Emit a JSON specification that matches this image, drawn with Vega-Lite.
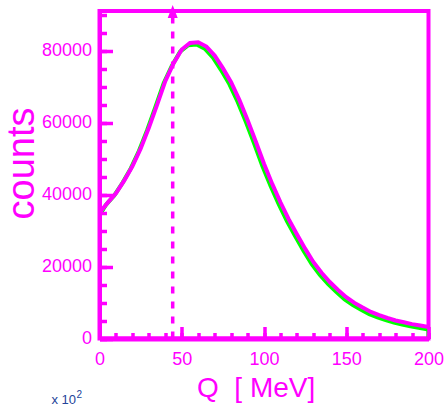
{
  "$schema": "https://vega.github.io/schema/vega-lite/v6.json",
  "width": 329,
  "height": 327.5,
  "autosize": "none",
  "padding": {"left": 99.5, "top": 11, "right": 16.5, "bottom": 69.5},
  "background": "white",
  "config": {
    "view": {"stroke": "#ff00ff", "strokeWidth": 4},
    "axis": {
      "labelFont": "Liberation Sans",
      "titleFont": "Liberation Sans",
      "labelColor": "#ff00ff",
      "titleColor": "#ff00ff",
      "tickColor": "#ff00ff",
      "domainColor": "#ff00ff",
      "grid": false,
      "labelFontSize": 18,
      "titleFontWeight": "normal",
      "tickWidth": 3.5
    }
  },
  "title": {
    "text": "x 10",
    "orient": "bottom",
    "anchor": "start",
    "frame": "group",
    "font": "Liberation Sans",
    "fontSize": 13,
    "fontWeight": "normal",
    "color": "#23449a",
    "baseline": "alphabetic",
    "offset": 0,
    "dx": -48,
    "dy": 2
  },
  "datasets": {
    "spectrum": [
      {"Q": 0, "counts": 35000}, {"Q": 5, "counts": 37800}, {"Q": 10, "counts": 40400},
      {"Q": 15, "counts": 43900}, {"Q": 20, "counts": 47900}, {"Q": 25, "counts": 52800},
      {"Q": 30, "counts": 58600}, {"Q": 35, "counts": 65000}, {"Q": 40, "counts": 71600},
      {"Q": 45, "counts": 76500}, {"Q": 50, "counts": 80400}, {"Q": 55, "counts": 82200},
      {"Q": 60, "counts": 82400}, {"Q": 65, "counts": 81200}, {"Q": 70, "counts": 78700},
      {"Q": 75, "counts": 75200}, {"Q": 80, "counts": 71300}, {"Q": 85, "counts": 66400},
      {"Q": 90, "counts": 60800}, {"Q": 95, "counts": 54800}, {"Q": 100, "counts": 48600},
      {"Q": 105, "counts": 43000}, {"Q": 110, "counts": 37900}, {"Q": 115, "counts": 33200},
      {"Q": 120, "counts": 29000}, {"Q": 125, "counts": 25000}, {"Q": 130, "counts": 21300},
      {"Q": 135, "counts": 18300}, {"Q": 140, "counts": 15700}, {"Q": 145, "counts": 13500},
      {"Q": 150, "counts": 11500}, {"Q": 155, "counts": 9900}, {"Q": 160, "counts": 8600},
      {"Q": 165, "counts": 7400}, {"Q": 170, "counts": 6500}, {"Q": 175, "counts": 5700},
      {"Q": 180, "counts": 5000}, {"Q": 185, "counts": 4500}, {"Q": 190, "counts": 4000},
      {"Q": 195, "counts": 3600}, {"Q": 200, "counts": 3200}
    ],
    "reference": [
      {"Q": 0, "counts": 34300}, {"Q": 4, "counts": 37200}, {"Q": 9, "counts": 39800},
      {"Q": 14, "counts": 43300}, {"Q": 19, "counts": 47300}, {"Q": 24, "counts": 52200},
      {"Q": 29, "counts": 58000}, {"Q": 34, "counts": 64400}, {"Q": 39, "counts": 71000},
      {"Q": 44, "counts": 75900}, {"Q": 49, "counts": 79800}, {"Q": 54, "counts": 81600},
      {"Q": 59, "counts": 81800}, {"Q": 64, "counts": 80600}, {"Q": 69, "counts": 78100},
      {"Q": 74, "counts": 74600}, {"Q": 79, "counts": 70700}, {"Q": 84, "counts": 65800},
      {"Q": 89, "counts": 60200}, {"Q": 94, "counts": 54200}, {"Q": 99, "counts": 48000},
      {"Q": 104, "counts": 42400}, {"Q": 109, "counts": 37300}, {"Q": 114, "counts": 32600},
      {"Q": 119, "counts": 28400}, {"Q": 124, "counts": 24400}, {"Q": 129, "counts": 20700},
      {"Q": 134, "counts": 17700}, {"Q": 139, "counts": 15100}, {"Q": 144, "counts": 12900},
      {"Q": 149, "counts": 10900}, {"Q": 154, "counts": 9300}, {"Q": 159, "counts": 8000},
      {"Q": 164, "counts": 6800}, {"Q": 169, "counts": 5900}, {"Q": 174, "counts": 5100},
      {"Q": 179, "counts": 4400}, {"Q": 184, "counts": 3900}, {"Q": 189, "counts": 3400},
      {"Q": 194, "counts": 3000}, {"Q": 199, "counts": 2600}, {"Q": 200, "counts": 2600},
      {"Q": 200, "counts": 0}
    ],
    "cut": [{"Q": 44.5, "counts": 0, "top": 89150}]
  },
  "layer": [
    {
      "data": {"name": "reference"},
      "mark": {"type": "line", "color": "#00ff00", "strokeWidth": 4, "clip": true},
      "encoding": {
        "x": {
          "field": "Q", "type": "quantitative",
          "scale": {"domain": [0, 200], "nice": false},
          "axis": {
            "orient": "bottom",
            "values": [0, 50, 100, 150, 200],
            "tickSize": -12,
            "labelPadding": 24,
            "labelFlush": false,
            "domainWidth": 5,
            "title": "Q\u00a0\u00a0[\u00a0MeV]",
            "titleFontSize": 28,
            "titleX": 97,
            "titleY": 57.5,
            "titleAlign": "left",
            "titleBaseline": "alphabetic",
            "zindex": 1
          }
        },
        "y": {
          "field": "counts", "type": "quantitative",
          "scale": {"domain": [0, 91100], "nice": false},
          "axis": {
            "orient": "left",
            "values": [0, 20000, 40000, 60000, 80000],
            "format": "d",
            "tickSize": -13,
            "labelPadding": 21,
            "domainWidth": 4,
            "title": "counts",
            "titleFontSize": 38,
            "titleX": -66,
            "titleY": 152,
            "titleAngle": 270,
            "titleAlign": "center",
            "titleBaseline": "alphabetic",
            "zindex": 1
          }
        },
        "order": {"value": null}
      }
    },
    {
      "data": {"name": "spectrum"},
      "mark": {"type": "line", "color": "#ff00ff", "strokeWidth": 4, "clip": true},
      "encoding": {
        "x": {
          "field": "Q", "type": "quantitative",
          "scale": {"domain": [0, 200], "nice": false},
          "axis": {
            "orient": "bottom",
            "values": [0, 10, 20, 30, 40, 50, 60, 70, 80, 90, 100, 110, 120, 130, 140, 150, 160, 170, 180, 190, 200],
            "tickSize": -6,
            "labels": false,
            "domain": false,
            "title": "2",
            "titleColor": "#23449a",
            "titleFontSize": 10,
            "titleX": -23.5,
            "titleY": 59,
            "titleAlign": "left",
            "titleBaseline": "alphabetic",
            "zindex": 1
          }
        },
        "y": {
          "field": "counts", "type": "quantitative",
          "scale": {"domain": [0, 91100], "nice": false},
          "axis": {
            "orient": "left",
            "values": [0, 5000, 10000, 15000, 20000, 25000, 30000, 35000, 40000, 45000, 50000, 55000, 60000, 65000, 70000, 75000, 80000, 85000, 90000],
            "tickSize": -7,
            "labels": false,
            "domain": false,
            "title": null,
            "zindex": 1
          }
        }
      }
    },
    {
      "data": {"name": "cut"},
      "mark": {"type": "rule", "color": "#ff00ff", "strokeWidth": 3.5, "strokeDash": [7, 8]},
      "encoding": {
        "x": {"field": "Q", "type": "quantitative", "scale": {"domain": [0, 200], "nice": false}, "axis": null},
        "y": {"field": "counts", "type": "quantitative", "scale": {"domain": [0, 91100], "nice": false}, "axis": null},
        "y2": {"field": "top"}
      }
    },
    {
      "data": {"name": "cut"},
      "mark": {"type": "point", "shape": "M0,-1.3L0.5,0L-0.5,0Z", "filled": true, "size": 400, "color": "#ff00ff", "opacity": 1},
      "encoding": {
        "x": {"field": "Q", "type": "quantitative", "scale": {"domain": [0, 200], "nice": false}, "axis": null},
        "y": {"field": "top", "type": "quantitative", "scale": {"domain": [0, 91100], "nice": false}, "axis": null}
      }
    }
  ],
  "resolve": {"axis": {"x": "independent", "y": "independent"}}
}
